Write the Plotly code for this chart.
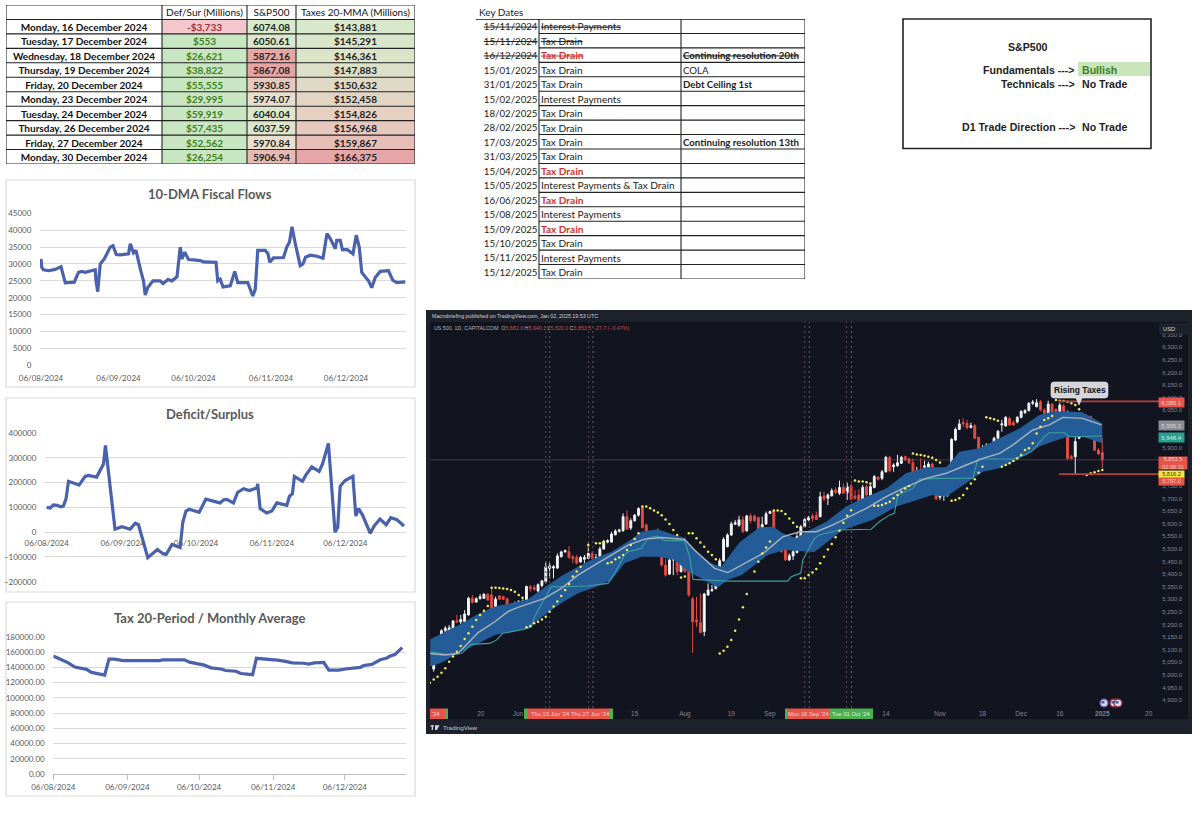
import pandas as pd
import plotly.graph_objects as go

# ---------- table data ----------
flow_dates = ["Monday, 16 December 2024", "Tuesday, 17 December 2024", "Wednesday, 18 December 2024",
              "Thursday, 19 December 2024", "Friday, 20 December 2024", "Monday, 23 December 2024",
              "Tuesday, 24 December 2024", "Thursday, 26 December 2024", "Friday, 27 December 2024",
              "Monday, 30 December 2024"]
flow_headers = ["", "Def/Sur (Millions)", "S&P500", "Taxes 20-MMA (Millions)"]
def_sur = [-3733, 553, 26621, 38822, 55555, 29995, 59919, 57435, 52562, 26254]
sp500 = [6074.08, 6050.61, 5872.16, 5867.08, 5930.85, 5974.07, 6040.04, 6037.59, 5970.84, 5906.94]
taxes_mma = [143881, 145291, 146361, 147883, 150632, 152458, 154826, 156968, 159867, 166375]

key_dates = ["15/11/2024", "15/11/2024", "16/12/2024", "15/01/2025", "31/01/2025", "15/02/2025", "18/02/2025",
             "28/02/2025", "17/03/2025", "31/03/2025", "15/04/2025", "15/05/2025", "16/06/2025", "15/08/2025",
             "15/09/2025", "15/10/2025", "15/11/2025", "15/12/2025"]
key_events = ["Interest Payments", "Tax Drain", "Tax Drain", "Tax Drain", "Tax Drain", "Interest Payments",
              "Tax Drain", "Tax Drain", "Tax Drain", "Tax Drain", "Tax Drain", "Interest Payments & Tax Drain",
              "Tax Drain", "Interest Payments", "Tax Drain", "Tax Drain", "Interest Payments", "Tax Drain"]
key_notes = ["", "", "Continuing resolution 20th", "COLA", "Debt Ceiling 1st", "", "", "",
             "Continuing resolution 13th", "", "", "", "", "", "", "", "", ""]
key_note_bold = [0, 0, 1, 0, 1, 0, 0, 0, 1, 0, 0, 0, 0, 0, 0, 0, 0, 0]
key_struck = [1, 1, 1, 0, 0, 0, 0, 0, 0, 0, 0, 0, 0, 0, 0, 0, 0, 0]
key_red = [0, 0, 1, 0, 0, 0, 0, 0, 0, 0, 1, 0, 1, 0, 1, 0, 0, 0]

# ---------- line chart data (days after 06/08/2024) ----------
start_date = pd.Timestamp("2024-08-06")
month_ticks = ["2024-08-06", "2024-09-06", "2024-10-06", "2024-11-06", "2024-12-06"]
month_labels = ["06/08/2024", "06/09/2024", "06/10/2024", "06/11/2024", "06/12/2024"]

fiscal_days = [0, 0.3, 1, 3, 5.7, 8, 9.7, 11, 13.3, 15, 16.4, 17.7, 19.7, 21.7, 22, 22.7, 23.7, 25.3, 27.7, 28.8,
               30.1, 31.7, 35, 35.7, 37, 38, 39.9, 41, 41.7, 42.7, 44.8, 47.7, 48.8, 50.8, 52.4, 54.4, 55.7, 56.4,
               57.5, 59, 61, 63.7, 65, 70, 70.7, 71.7, 72.8, 75.7, 77.5, 78.7, 82.7, 84.7, 85.7, 86.7, 89.7, 90.8,
               91.5, 93, 97, 98.3, 99.4, 100.4, 101.7, 103.7, 104.8, 105.8, 107.7, 110.4, 112.8, 114.4, 115.7,
               117.7, 118.3, 119.7, 120.6, 122.4, 124.8, 126.1, 127.3, 128.3, 131, 132.3, 133.7, 135.7, 139,
               140.7, 142.3, 145.7]
fiscal_vals = [31500, 29000, 28300, 28000, 28400, 29200, 24400, 24500, 24600, 27500, 27800, 27500, 28000, 28300,
               25000, 21800, 30000, 31500, 35000, 35400, 32800, 32700, 33000, 36000, 33300, 34000, 28000, 25000,
               20800, 23000, 25000, 25000, 24200, 25400, 25000, 26200, 35000, 31500, 33500, 31300, 31200, 31000,
               30600, 30500, 25000, 25500, 23200, 23500, 27800, 24500, 24500, 20500, 22500, 34000, 34000, 33000,
               30500, 31800, 31900, 35000, 36500, 41000, 36000, 29500, 30000, 32000, 32600, 32300, 31700, 39000,
               37500, 34500, 37000, 37000, 34200, 34300, 33000, 38500, 35000, 27500, 25000, 23000, 26000, 27800,
               28000, 25200, 24500, 24700]

deficit_days = [0, 1.4, 2.7, 4.4, 5.7, 6.8, 7.9, 8.9, 11.2, 13.2, 15.7, 17, 20.4, 22.5, 23.2, 24, 27.9, 30.7, 34.1,
                36.2, 37.5, 41.3, 43.3, 45.2, 47.7, 48.8, 51.2, 54.5, 55.6, 56.9, 58.2, 62.3, 65, 70.8, 72.2, 73.6,
                76.3, 78, 80.4, 82.8, 85.8, 86.2, 87.2, 89.9, 92, 94, 98.1, 99.2, 100.4, 101.2, 104.5, 106, 108.3,
                111.3, 112.7, 115.1, 117.8, 118.9, 119.9, 121.9, 125.1, 126.3, 127.4, 129, 132.2, 133.8, 136.2,
                138.7, 140.6, 143.1, 146]
deficit_vals = [100000, 97000, 110000, 108000, 102000, 105000, 135000, 205000, 197000, 190000, 225000, 229000,
                222000, 265000, 275000, 350000, 12000, 22000, 12000, 36000, 30000, -103000, -85000, -70000, -88000,
                -90000, -50000, -62000, 40000, 85000, 92000, 80000, 133000, 118000, 130000, 132000, 118000, 160000,
                175000, 168000, 178000, 195000, 95000, 77000, 85000, 118000, 108000, 145000, 155000, 225000, 205000,
                232000, 263000, 245000, 275000, 358000, 0, 20000, 185000, 208000, 225000, 65000, 95000, 70000, -5000,
                25000, 53000, 30000, 58000, 50000, 25000]

tax_days = [0, 2.1, 4.2, 6.3, 9, 11.2, 13.9, 16, 18.8, 21.5, 23.3, 25.7, 29.2, 34, 37.5, 39.6, 44.4, 45.8, 50.7, 52.8,
            54.9, 57, 59.7, 63.2, 66, 70.1, 72.2, 76.4, 78.5, 81.3, 83.4, 85, 87.5, 91, 93.8, 97.2, 100, 104.9, 107,
            109.1, 113.2, 115.3, 119.5, 122.2, 125, 128.5, 129.9, 133.3, 136.8, 139.6, 141, 143, 146]
tax_vals = [155000, 152000, 148500, 146000, 140500, 139000, 137500, 133500, 131500, 130000, 151000, 151000, 149000,
            149000, 148000, 149000, 149000, 150000, 150000, 151000, 150000, 147000, 145000, 143000, 139500, 138000,
            136000, 135000, 132000, 131000, 130500, 152000, 151500, 150000, 149500, 148000, 146000, 145500, 144500,
            146000, 146500, 136500, 136500, 138000, 138500, 140000, 142500, 144000, 150000, 152500, 155000, 157000,
            166000]

# ---------- candles ----------
bar_open = [5023, 5075, 5132, 5175, 5171, 5175, 5215, 5210, 5211, 5238,
            5304, 5289, 5302, 5304, 5320, 5317, 5264, 5313, 5310, 5302,
            5251, 5224, 5281, 5281, 5291, 5350, 5347, 5333, 5355, 5370,
            5423, 5424, 5424, 5469, 5488, 5489, 5469, 5466, 5448, 5459,
            5463, 5482, 5463, 5469, 5500, 5527, 5527, 5556, 5570, 5572,
            5628, 5583, 5612, 5634, 5665, 5595, 5548, 5509, 5559, 5529,
            5436, 5400, 5456, 5463, 5410, 5535, 5432, 5302, 5218, 5207,
            5172, 5317, 5334, 5343, 5424, 5453, 5509, 5555, 5598, 5594,
            5617, 5572, 5631, 5631, 5624, 5552, 5599, 5641, 5652, 5522,
            5515, 5496, 5456, 5472, 5486, 5549, 5588, 5615, 5631, 5632,
            5628, 5710, 5701, 5711, 5734, 5721, 5744, 5723, 5750, 5710,
            5714, 5694, 5747, 5701, 5744, 5784, 5780, 5806, 5863, 5826,
            5830, 5840, 5866, 5857, 5842, 5800, 5810, 5824, 5824, 5837,
            5800, 5705, 5710, 5714, 5789, 5932, 5974, 6002, 5998, 5982,
            5989, 5943, 5863, 5892, 5906, 5912, 5939, 5992, 5988, 6018,
            6002, 6004, 6022, 6041, 6049, 6078, 6064, 6084, 6051, 6038,
            6074, 6054, 6045, 6067, 6045, 5866, 5866, 5939, 5965, 6027,
            6025, 5965, 5892, 5882.6]
bar_high = [5099, 5138, 5181, 5194, 5198, 5218, 5238, 5238, 5257, 5310,
            5317, 5308, 5321, 5324, 5324, 5347, 5310, 5317, 5314, 5306,
            5257, 5291, 5297, 5300, 5354, 5357, 5357, 5363, 5377, 5449,
            5443, 5436, 5482, 5493, 5498, 5511, 5476, 5476, 5472, 5476,
            5522, 5489, 5480, 5509, 5535, 5538, 5568, 5578, 5580, 5641,
            5652, 5621, 5638, 5665, 5670, 5601, 5572, 5568, 5582, 5535,
            5459, 5463, 5489, 5466, 5548, 5546, 5436, 5310, 5310, 5324,
            5326, 5363, 5357, 5432, 5463, 5546, 5562, 5608, 5615, 5631,
            5631, 5635, 5641, 5635, 5628, 5628, 5648, 5652, 5654, 5549,
            5535, 5502, 5482, 5496, 5562, 5595, 5621, 5631, 5639, 5648,
            5727, 5727, 5720, 5740, 5744, 5771, 5760, 5763, 5758, 5734,
            5737, 5754, 5754, 5756, 5793, 5789, 5813, 5869, 5869, 5840,
            5873, 5869, 5870, 5862, 5859, 5826, 5859, 5850, 5846, 5842,
            5803, 5734, 5727, 5793, 5939, 5982, 6014, 6018, 6012, 6001,
            5996, 5945, 5912, 5919, 5919, 5945, 5972, 6012, 6027, 6025,
            6009, 6027, 6051, 6054, 6083, 6091, 6094, 6091, 6058, 6088,
            6080, 6058, 6080, 6075, 6051, 5873, 5975, 5976, 6038, 6033,
            6030, 5972, 5899, 5940.1]
bar_low = [5013, 5072, 5128, 5171, 5167, 5171, 5205, 5202, 5207, 5235,
           5284, 5287, 5300, 5301, 5295, 5257, 5261, 5297, 5297, 5238,
           5223, 5187, 5244, 5244, 5288, 5330, 5334, 5326, 5347, 5363,
           5383, 5383, 5420, 5466, 5485, 5463, 5443, 5439, 5445, 5443,
           5459, 5443, 5436, 5440, 5496, 5522, 5525, 5554, 5564, 5568,
           5575, 5575, 5608, 5628, 5582, 5542, 5496, 5505, 5546, 5429,
           5390, 5396, 5396, 5396, 5406, 5406, 5310, 5088, 5191, 5165,
           5154, 5314, 5330, 5339, 5420, 5449, 5506, 5552, 5595, 5588,
           5564, 5568, 5601, 5608, 5564, 5549, 5595, 5639, 5515, 5505,
           5485, 5453, 5453, 5456, 5482, 5542, 5586, 5611, 5608, 5615,
           5625, 5691, 5674, 5707, 5718, 5714, 5718, 5694, 5694, 5697,
           5685, 5687, 5707, 5694, 5740, 5771, 5773, 5803, 5804, 5806,
           5826, 5837, 5850, 5837, 5767, 5784, 5795, 5806, 5803, 5803,
           5694, 5694, 5691, 5707, 5784, 5928, 5972, 5982, 5974, 5978,
           5935, 5859, 5859, 5833, 5866, 5873, 5932, 5965, 5985, 5988,
           5988, 5998, 6018, 6035, 6045, 6071, 6062, 6046, 6034, 6035,
           6041, 6035, 6041, 6041, 5853, 5855, 5797, 5935, 5961, 6018,
           5961, 5888, 5873, 5820.0]
bar_close = [5083, 5132, 5175, 5185, 5187, 5214, 5210, 5220, 5242, 5304,
             5287, 5302, 5310, 5320, 5297, 5261, 5301, 5301, 5300, 5244,
             5227, 5281, 5291, 5293, 5351, 5342, 5339, 5358, 5373, 5429,
             5432, 5429, 5472, 5488, 5493, 5465, 5461, 5443, 5466, 5466,
             5482, 5463, 5466, 5500, 5530, 5533, 5559, 5571, 5575, 5628,
             5579, 5612, 5634, 5660, 5584, 5546, 5500, 5562, 5548, 5436,
             5396, 5456, 5463, 5410, 5533, 5410, 5317, 5211, 5211, 5168,
             5321, 5337, 5339, 5427, 5453, 5538, 5555, 5599, 5604, 5615,
             5568, 5631, 5612, 5612, 5568, 5597, 5639, 5648, 5519, 5509,
             5489, 5456, 5473, 5489, 5549, 5588, 5617, 5625, 5621, 5617,
             5707, 5697, 5714, 5731, 5724, 5744, 5721, 5747, 5697, 5701,
             5687, 5744, 5714, 5747, 5787, 5776, 5806, 5863, 5809, 5833,
             5842, 5863, 5853, 5842, 5797, 5810, 5797, 5829, 5837, 5807,
             5698, 5727, 5718, 5789, 5935, 5974, 5996, 5996, 5981, 5989,
             5939, 5863, 5890, 5912, 5912, 5939, 5967, 5996, 6022, 5992,
             5992, 6022, 6045, 6049, 6078, 6082, 6080, 6051, 6038, 6075,
             6045, 6041, 6071, 6045, 5859, 5859, 5926, 5965, 6031, 6022,
             5965, 5892, 5877, 5853.5]

# ---------- indicators ----------
upper_bars = [-0.9, 7, 11.5, 15.8, 20, 24.4, 28.7, 33, 37.3, 41.6, 46, 50.3, 53.7, 58, 62.3, 65, 67.5, 71.8, 74.4, 75.7,
              79.1, 84.3, 87.8, 90.3, 93.8, 96.4, 101.6, 106.7, 111.9, 117.1, 122.2, 127.4, 132.6, 136, 141.2, 146.4,
              151.6, 156.7, 160.2, 163.6, 167.9, 173]
upper_vals = [5141, 5202, 5242, 5271, 5284, 5300, 5347, 5392, 5429, 5463, 5489, 5529, 5568, 5578, 5555, 5542, 5496,
              5443, 5429, 5456, 5525, 5586, 5588, 5562, 5542, 5568, 5608, 5668, 5707, 5740, 5800, 5824, 5824, 5886,
              5899, 5939, 5978, 6031, 6045, 6045, 6042, 5998]
lower_bars = [-0.9, 2, 7, 11.5, 15.8, 20, 24.4, 28.7, 33, 37.3, 41.6, 46, 49.4, 53.7, 58, 62.3, 65.8, 70, 73.5, 76,
              79.7, 86.4, 90.8, 98.5, 105.8, 113.5, 119.7, 129.1, 132.6, 137.8, 142.1, 146.4, 151.6, 156.7, 160.2,
              163.6, 167.9, 173]
lower_vals = [5033, 5048, 5092, 5125, 5158, 5171, 5185, 5238, 5284, 5324, 5347, 5377, 5443, 5469, 5469, 5456, 5410,
              5377, 5347, 5377, 5396, 5476, 5496, 5488, 5575, 5615, 5668, 5714, 5707, 5760, 5806, 5820, 5859, 5906,
              5926, 5943, 5945, 5919]
mid_bars = [-0.9, 2.8, 6.3, 8.9, 11.5, 15.8, 19.2, 21.8, 24.4, 28.7, 33, 37.3, 41.6, 46, 50.3, 54.6, 58.9, 64.9, 67.5,
            70.1, 72.7, 76.1, 85.2, 87.8, 90.3, 94.7, 99, 103.3, 107.6, 111.9, 117.1, 121.4, 127.4, 132.6, 137.8,
            142.1, 146.4, 149.8, 155, 159.3, 162.8, 167.9, 172.8]
mid_vals = [5085, 5079, 5085, 5125, 5168, 5211, 5251, 5268, 5281, 5304, 5343, 5396, 5436, 5476, 5515, 5539, 5545,
            5538, 5496, 5459, 5423, 5406, 5482, 5515, 5548, 5568, 5568, 5595, 5628, 5661, 5707, 5740, 5780, 5800,
            5833, 5859, 5879, 5912, 5972, 5992, 6022, 6018, 5992]
teal_bars = [-0.9, 3.7, 7.2, 9.7, 14.5, 16.2, 17.9, 23.5, 25.3, 26.1, 28.7, 30.4, 33, 39.9, 45.1, 46.8, 49.4, 50.3,
             53.7, 55.4, 58, 59.7, 64.9, 66.2, 67.1, 76.1, 91.6, 92.5, 95, 95.5, 98.5, 99.8, 105, 113.2, 115.3, 117.9,
             119.2, 120.1, 124, 125.7, 130, 139.5, 140.8, 149.8, 153.3, 155, 158, 159.3, 163.2, 164.5, 173]
teal_vals = [5092, 5081, 5085, 5121, 5125, 5138, 5165, 5181, 5191, 5231, 5304, 5350, 5350, 5353, 5363, 5403, 5476,
             5489, 5502, 5542, 5551, 5533, 5533, 5469, 5379, 5372, 5372, 5390, 5404, 5456, 5541, 5555, 5575, 5578,
             5608, 5634, 5641, 5714, 5740, 5776, 5780, 5781, 5857, 5857, 5875, 5890, 5945, 5961, 5961, 5945, 5948]
sar_bars = [-1, 0, 1, 2, 3, 4, 5, 6, 7, 8, 9, 10, 11, 12, 13, 14,
            15, 16, 17, 18, 19, 20, 21, 22, 23,
            24, 25, 26, 27, 28, 29, 30, 31, 32, 33, 34, 35, 36, 37, 38,
            40, 42, 43, 44, 45, 46, 47, 48, 49, 50, 51, 52, 53,
            54, 55, 56, 57, 58, 59, 60, 61, 62, 63, 64, 65,
            66, 67, 68, 69, 70, 71, 72, 73,
            74, 75, 76, 77, 78, 79, 80, 81, 83, 84, 85, 86, 87,
            88, 89, 90, 91, 92, 93, 94,
            95, 96, 97, 98, 99, 100, 101, 102, 103, 104, 105, 106, 107, 108,
            109, 110, 111, 112, 113,
            114, 115, 116, 117, 118, 119, 120, 121, 122, 123,
            124, 125, 126, 127, 128, 129, 130, 131,
            134, 135, 136, 137, 138, 139, 140, 141, 142,
            143, 144, 145, 146,
            147, 148, 149, 150, 151, 152, 153, 154, 155, 156, 157, 158, 159, 160,
            161, 162, 163, 164, 165, 166, 167,
            169, 170, 171, 172, 173]
sar_vals = [4969, 4982, 4993, 5009, 5026, 5052, 5073, 5092, 5115, 5142, 5165, 5191, 5218, 5238, 5255, 5273,
            5346, 5346, 5345, 5343, 5341, 5337, 5330, 5317, 5306,
            5189, 5194, 5205, 5211, 5220, 5231, 5251, 5271, 5291, 5313, 5337, 5361, 5390, 5410, 5429,
            5515, 5522, 5522, 5525, 5443, 5447, 5459, 5466, 5476, 5496, 5515, 5539, 5562,
            5668, 5668, 5661, 5652, 5644, 5634, 5617, 5599, 5575, 5555, 5387, 5390,
            5562, 5562, 5542, 5525, 5509, 5489, 5476, 5459,
            5085, 5096, 5112, 5138, 5175, 5220, 5268, 5321, 5410, 5449, 5482, 5506, 5529,
            5652, 5652, 5650, 5638, 5621, 5604, 5588,
            5384, 5384, 5396, 5406, 5420, 5443, 5469, 5498, 5519, 5546, 5572, 5604, 5632, 5653,
            5771, 5767, 5767, 5764, 5760,
            5671, 5671, 5674, 5681, 5687, 5701, 5714, 5727, 5740, 5750,
            5879, 5875, 5873, 5870, 5866, 5862, 5853, 5843,
            5691, 5694, 5701, 5714, 5740, 5760, 5776, 5802, 5826,
            6022, 6018, 6014, 6009,
            5826, 5833, 5840, 5849, 5859, 5873, 5892, 5899, 5919, 5958, 5985, 6012, 6018, 6027,
            6091, 6088, 6087, 6084, 6078, 6071, 6054,
            5793, 5800, 5804, 5809, 5813]
event_bars_red = [29, 40.1, 96, 106.8]
event_bars_gray = [30, 41.2, 97.2, 108.1]
price_ticks = [4900, 4950, 5000, 5050, 5100, 5150, 5200, 5250, 5300, 5350, 5400, 5450, 5500, 5550, 5600, 5650, 5700,
               5750, 5900, 6050, 6100, 6150, 6200, 6250, 6300, 6350]
date_tick_bars = [12.2, 21.8, 52, 65, 77, 87, 117, 131, 142, 152, 162, 173, 185]
date_tick_text = ["20", "Jun", "15", "Aug", "19", "Sep", "14", "Nov", "18", "Dec", "16", "<b>2025</b>", "20"]

last_close = 5853.5
top_level = 6085.1
bottom_level = 5797.0
level_from_bar = 161.8

# ---------- helpers ----------
W, H = 1200, 813
LATO = "Lato"
ARIAL = "Liberation Sans"
shapes, annotations = [], []


def xd(a, b):
    return [a / W, b / W]


def yd(top, bot):
    return [1 - bot / H, 1 - top / H]


def px(x):
    return x / W


def py(y):
    return 1 - y / H


def rect(x0, y0, x1, y1, fill="rgba(0,0,0,0)", line=None, lw=1, layer="below"):
    shapes.append(dict(type="rect", xref="paper", yref="paper", x0=px(x0), x1=px(x1), y0=py(y1), y1=py(y0),
                       fillcolor=fill, line=dict(color=line or "rgba(0,0,0,0)", width=lw if line else 0), layer=layer))


def note(x, y, text, size=10, color="#000", family=LATO, anchor="center", **kw):
    annotations.append(dict(xref="paper", yref="paper", x=px(x), y=py(y), text=text, showarrow=False,
                            xanchor=anchor, yanchor="middle", font=dict(size=size, color=color, family=family),
                            borderpad=0, **kw))


def days_to_dates(days):
    return [start_date + pd.Timedelta(hours=d * 24) for d in days]


fig = go.Figure()
axes = {}


def set_axes(n, xdom, ydom, xkw, ykw):
    suffix = "" if n == 1 else str(n)
    anchor_x, anchor_y = "x" + suffix, "y" + suffix
    axes["xaxis" + suffix] = dict(domain=xdom, anchor=anchor_y, fixedrange=True, automargin=False, **xkw)
    axes["yaxis" + suffix] = dict(domain=ydom, anchor=anchor_x, fixedrange=True, automargin=False, **ykw)
    return anchor_x, anchor_y


HIDDEN = dict(visible=False)
TEXT_DROP = 0.12  # rows: optical centring of table text

# ---------- table 1 ----------
col_edges = [6, 162, 247, 296, 415]
ax, ay = set_axes(1, xd(6, 415), yd(5, 164), dict(range=[6, 415], **HIDDEN), dict(range=[9.5, -1.5], **HIDDEN))
row_ids = list(range(len(flow_dates)))
text_rows = [r + TEXT_DROP for r in row_ids]
neg_stop = (0 - min(def_sur)) / (max(def_sur) - min(def_sur))
heat_cols = [
    (def_sur, [[0, "#f4c7ce"], [neg_stop, "#f4c7ce"], [neg_stop, "#c8e6c1"], [1, "#c8e6c1"]], col_edges[1:3]),
    (sp500, [[0, "#e5a3a2"], [0.5, "#e8dfcc"], [1, "#d6e9c9"]], col_edges[2:4]),
    (taxes_mma, [[0, "#d8e9cb"], [0.5, "#e6cfc2"], [1, "#e6a6a8"]], col_edges[3:5]),
]
for vals, scale, edges in heat_cols:
    fig.add_trace(go.Heatmap(z=[[v] for v in vals], x=edges, y=row_ids, colorscale=scale, showscale=False,
                             hoverinfo="skip", xaxis=ax, yaxis=ay))
gx, gy = [], []
for e in col_edges:
    gx += [e, e, None]
    gy += [-1.5, 9.5, None]
for r in range(-1, 10):
    gx += [6, 415, None]
    gy += [r + 0.5, r + 0.5, None]
gx += [6, 415]
gy += [-1.5, -1.5]
fig.add_trace(go.Scatter(x=gx, y=gy, mode="lines", line=dict(color="#222", width=1.1), hoverinfo="skip", xaxis=ax, yaxis=ay))
centers = [(col_edges[i] + col_edges[i + 1]) / 2 for i in range(4)]
fig.add_trace(go.Scatter(x=centers[1:], y=[-1 + TEXT_DROP] * 3, text=flow_headers[1:], mode="text",
                         textfont=dict(family=LATO, size=10, color="#111"), hoverinfo="skip", xaxis=ax, yaxis=ay))
col_text = [
    ["<b>%s</b>" % d for d in flow_dates],
    ["<b>%s$%s</b>" % ("-" if v < 0 else "", format(abs(v), ",")) for v in def_sur],
    ["<b>%.2f</b>" % v for v in sp500],
    ["<b>$%s</b>" % format(v, ",") for v in taxes_mma],
]
col_colors = [
    ["#111"] * 10,
    ["#a13030" if v < 0 else "#3f7f1e" for v in def_sur],
    ["#222"] * 10,
    ["#222"] * 10,
]
for i in range(4):
    fig.add_trace(go.Scatter(x=[centers[i]] * 10, y=text_rows, text=col_text[i], mode="text",
                             textfont=dict(family=LATO, size=10, color=col_colors[i]),
                             hoverinfo="skip", xaxis=ax, yaxis=ay))

# ---------- table 2 ----------
kx = [476, 539, 681, 805]
ax, ay = set_axes(2, xd(476, 805), yd(19, 279), dict(range=[476, 805], **HIDDEN), dict(range=[17.5, -0.5], **HIDDEN))
gx, gy = [], []
for e in kx[1:]:
    gx += [e, e, None]
    gy += [-0.5, 17.5, None]
for r in range(18):
    gx += [539, 805, None]
    gy += [r + 0.5, r + 0.5, None]
fig.add_trace(go.Scatter(x=gx, y=gy, mode="lines", line=dict(color="#222", width=1.1), hoverinfo="skip", xaxis=ax, yaxis=ay))
fig.add_trace(go.Scatter(x=[476, 805], y=[-0.5, -0.5], mode="lines", line=dict(color="#111", width=1.6), hoverinfo="skip", xaxis=ax, yaxis=ay))
STRIKE = '<span style="text-decoration:line-through">%s</span>'
key_rows = [r + TEXT_DROP for r in range(18)]
t_dates = [STRIKE % d if s else d for d, s in zip(key_dates, key_struck)]
t_events = []
for e, s, r in zip(key_events, key_struck, key_red):
    t = "<b>%s</b>" % e if r else e
    t_events.append(STRIKE % t if s else t)
t_notes = []
for n, s, b in zip(key_notes, key_struck, key_note_bold):
    t = "<b>%s</b>" % n if b else n
    t_notes.append(STRIKE % t if s and n else t)
fig.add_trace(go.Scatter(x=[537.5] * 18, y=key_rows, text=t_dates, mode="text", textposition="middle left",
                         textfont=dict(family=LATO, size=9.7, color="#222"), hoverinfo="skip", xaxis=ax, yaxis=ay))
fig.add_trace(go.Scatter(x=[541] * 18, y=key_rows, text=t_events, mode="text", textposition="middle right",
                         textfont=dict(family=LATO, size=10.1, color=["#d0342c" if r else "#222" for r in key_red]),
                         hoverinfo="skip", xaxis=ax, yaxis=ay))
fig.add_trace(go.Scatter(x=[683] * 18, y=key_rows, text=t_notes, mode="text", textposition="middle right",
                         textfont=dict(family=LATO, size=9.7, color="#222"), hoverinfo="skip", xaxis=ax, yaxis=ay))
note(478, 12, "Key Dates", size=10, color="#222", anchor="left")

# ---------- S&P box ----------
rect(903, 19, 1151, 148.5, line="#222", lw=1.6)
rect(1078, 62, 1150, 76, fill="#c9e6bb")
B = lambda s: "<b>%s</b>" % s
BOXF = 10.6
note(1028, 47.5, B("S&amp;P500"), BOXF, "#222", ARIAL)
note(1075.5, 70, B("Fundamentals ---&gt;"), BOXF, "#222", ARIAL, "right")
note(1080.5, 70, B("Bullish"), BOXF, "#3f7f1e", ARIAL, "left")
note(1075.5, 84, B("Technicals ---&gt;"), BOXF, "#222", ARIAL, "right")
note(1080.5, 84, B("No Trade"), BOXF, "#222", ARIAL, "left")
note(1075.5, 127, B("D1 Trade Direction ---&gt;"), BOXF, "#222", ARIAL, "right")
note(1080.5, 127, B("No Trade"), BOXF, "#222", ARIAL, "left")

# ---------- excel line charts ----------
LINE = dict(color="#4a62ae", width=3.2, shape="linear")
GRAY = "#595959"
TICKF = dict(family=LATO, size=8, color=GRAY)


def excel_chart(n, panel, plot, day_rng, yrange, ydtick, title, title_y, days, vals, tickformat="d", x_axis_y=None, xline=False):
    rect(panel[0], panel[1], panel[2], panel[3], line="#d9d9d9", lw=1.2)
    xkw = dict(type="date", range=[start_date + pd.Timedelta(hours=day_rng[0] * 24), start_date + pd.Timedelta(hours=day_rng[1] * 24)],
               tickvals=month_ticks, ticktext=month_labels, tickfont=TICKF, showgrid=False, zeroline=False,
               ticks="outside", ticklen=3 if x_axis_y is not None else 5, tickcolor="#bfbfbf" if xline else "rgba(0,0,0,0)",
               showline=xline, linecolor="#bfbfbf")
    ykw = dict(range=yrange, dtick=ydtick, tick0=0, tickfont=TICKF, tickformat=tickformat, gridcolor="#d9d9d9", gridwidth=1,
               zeroline=False, showline=False, ticks="outside", ticklen=6, tickcolor="rgba(0,0,0,0)")
    a, b = set_axes(n, xd(plot[0], plot[1]), yd(plot[2], plot[3]), xkw, ykw)
    if x_axis_y is not None:
        axes["xaxis" + str(n)].update(anchor="free", position=py(x_axis_y))
    fig.add_trace(go.Scatter(x=days_to_dates(days), y=vals, mode="lines", line=LINE, hoverinfo="skip", xaxis=a, yaxis=b))
    note((panel[0] + panel[2]) / 2 - 0.5, title_y, B(title), 13, GRAY)


excel_chart(3, (6, 180, 415, 387), (40, 406, 213.3, 365.3), (-0.4, 146), [0, 45000], 5000, "10-DMA Fiscal Flows", 194,
            fiscal_days, fiscal_vals)
excel_chart(4, (6, 398, 415, 592), (45, 406, 433, 581.7), (-0.7, 146.8), [-200000, 400000], 100000, "Deficit/Surplus", 413.5,
            deficit_days, deficit_vals, x_axis_y=532)
excel_chart(5, (6, 602, 415, 796), (53.3, 406, 637, 774), (0, 147.6), [0, 180000], 20000, "Tax 20-Period / Monthly Average", 618,
            tax_days, tax_vals, tickformat=".2f", xline=True)

# ---------- TradingView panel ----------
rect(426, 310, 1192, 734, fill="#1d212c")
rect(430, 322, 1188, 719, fill="#12151f")
n_bars = len(bar_close)
step = (1102.3 - 433.7) / (n_bars - 1)
x_rng = [(430 - 433.7) / step, (1159 - 433.7) / step]
y_rng = [6300 - (708 - 347.3) / 0.252, 6300 + (347.3 - 322) / 0.252]
DIM = "#83868f"
xkw = dict(range=x_rng, tickvals=date_tick_bars, ticktext=date_tick_text, tickfont=dict(family=ARIAL, size=6.5, color=DIM),
           showgrid=False, zeroline=False, showline=False, ticks="", rangeslider=dict(visible=False))
ykw = dict(range=y_rng, side="right", tickvals=price_ticks, tickformat=",.1f", tickfont=dict(family=ARIAL, size=6, color=DIM),
           showgrid=False, zeroline=False, showline=False, ticks="outside", ticklen=1, tickcolor="rgba(0,0,0,0)")
ax, ay = set_axes(6, xd(430, 1159), yd(322, 708), xkw, ykw)
SK = dict(hoverinfo="skip", showlegend=False, xaxis=ax, yaxis=ay)

for bars, colr in ((event_bars_red, "#6a3f48"), (event_bars_gray, "#5c5f68")):
    ex, ey = [], []
    for b in bars:
        ex += [b, b, None]
        ey += [y_rng[0], y_rng[1], None]
    fig.add_trace(go.Scatter(x=ex, y=ey, mode="lines", line=dict(color=colr, width=1, dash="2px,3px"), **SK))
fig.add_trace(go.Scatter(x=x_rng, y=[last_close, last_close], mode="lines", line=dict(color="rgba(150,110,120,0.4)", width=1), **SK))
fig.add_trace(go.Scatter(x=upper_bars + lower_bars[::-1], y=upper_vals + lower_vals[::-1], mode="lines", fill="toself",
                         fillcolor="#245c98", line=dict(width=0, color="#245c98"), **SK))
fig.add_trace(go.Scatter(x=teal_bars, y=teal_vals, mode="lines", line=dict(color="#3f9fa0", width=1.1), **SK))
fig.add_trace(go.Scatter(x=mid_bars, y=mid_vals, mode="lines", line=dict(color="#a9b3bd", width=1.4), **SK))
fig.add_trace(go.Candlestick(x=list(range(n_bars)), open=bar_open, high=bar_high, low=bar_low, close=bar_close,
                             increasing=dict(line=dict(color="#eeeff2", width=1), fillcolor="#ffffff"),
                             decreasing=dict(line=dict(color="#e04a42", width=1), fillcolor="#ea5148"),
                             whiskerwidth=0, **SK))
fig.add_trace(go.Scatter(x=sar_bars, y=sar_vals, mode="markers", marker=dict(color="#f4ea5c", size=2.5), **SK))
fig.add_trace(go.Scatter(x=[level_from_bar, x_rng[1]], y=[top_level, top_level], mode="lines", line=dict(color="#b5413c", width=1.8), **SK))
fig.add_trace(go.Scatter(x=[level_from_bar, x_rng[1]], y=[bottom_level, bottom_level], mode="lines", line=dict(color="#b5413c", width=1.8), **SK))

# header & legend text
note(431, 316, "Macrobriefing published on TradingView.com, Jan 02, 2025 19:53 UTC", 5.3, "#d1d4dc", ARIAL, "left")
RD = lambda s: '<span style="color:#c0504d">%s</span>' % s
note(433, 328, "US 500, 1D, CAPITALCOM  O" + RD("5,882.6") + " H" + RD("5,940.1") + " L" + RD("5,820.0") + " C" + RD("5,853.5") + " " + RD("\u221227.7 (\u22120.47%)"),
     5.3, "#b2b5be", ARIAL, "left")

# axis tags on the date strip
TAG_R, TAG_G = "#e8534a", "#4caf50"
rect(430, 708.5, 445, 719, fill=TAG_R, layer="above")
rect(445, 708.5, 448, 719, fill=TAG_G, layer="above")
rect(524, 708.5, 528, 719, fill=TAG_G, layer="above")
rect(528, 708.5, 609, 719, fill=TAG_R, layer="above")
rect(609, 708.5, 613, 719, fill=TAG_G, layer="above")
rect(785, 708.5, 787, 719, fill=TAG_G, layer="above")
rect(787, 708.5, 829, 719, fill=TAG_R, layer="above")
rect(829, 708.5, 873, 719, fill=TAG_G, layer="above")
note(436, 714, "'24", 5.8, "#f3d6d4", ARIAL)
note(550, 714, "Thu 13 Jun '24", 5.8, "#f3d6d4", ARIAL)
note(590, 714, "Thu 27 Jun '24", 5.8, "#f3d6d4", ARIAL)
note(808, 714, "Mon 16 Sep '24", 5.8, "#f3d6d4", ARIAL)
note(851, 714, "Tue 01 Oct '24", 5.8, "#dff0df", ARIAL)

# bottom bar
note(442, 727.5, "TradingView", 6.2, "#c6c8ce", ARIAL, "left")
rect(430.5, 725.3, 434, 726.6, fill="#d1d4dc", layer="above")
rect(431.7, 725.3, 433, 730, fill="#d1d4dc", layer="above")
shapes.append(dict(type="path", xref="paper", yref="paper", layer="above", fillcolor="#d1d4dc", line=dict(width=0),
                   path="M %f %f L %f %f L %f %f L %f %f Z" % (px(435), py(725.3), px(439.5), py(725.3), px(437), py(730), px(435), py(730))))

# right-hand labels
rect(1160, 324, 1187, 333.5, fill="#1d212c", line="#2a2e39", lw=0.8, layer="above")
note(1169, 328.7, "USD", 5.8, "#d1d4dc", ARIAL)


def tag(y, text, bg, fg="#f5d5d3", width=25, h=9, cx=1171, size=6):
    note(cx, y, text, size, fg, ARIAL, bgcolor=bg, width=width, height=h, align="center")


tag(402.5, "6,085.1", "#e8534a")
tag(425, "5,995.2", "#8a8c93", "#d8d9dc")
tag(437.5, "5,948.4", "#26a08f", "#cdeee8")
tag(463, "5,853.5<br>02:06:31", "#e8534a", width=28, h=12, cx=1173, size=5.6)
tag(474.5, "5,816.2", "#f5e83a", "#333", h=6.5, size=5.6)
tag(481.5, "5,797.0", "#e8534a", h=6.5, size=5.6)

# Rising Taxes callout
x0, x1, y0, y1, r = 1051, 1108, 382, 398, 3
shapes.append(dict(type="path", xref="paper", yref="paper", layer="above", fillcolor="#d3d5da", line=dict(color="#e8e9ec", width=0.6),
                   path=("M %f %f L %f %f Q %f %f %f %f L %f %f Q %f %f %f %f L %f %f L %f %f L %f %f L %f %f Q %f %f %f %f L %f %f Q %f %f %f %f Z" % (
                       px(x0 + r), py(y0), px(x1 - r), py(y0), px(x1), py(y0), px(x1), py(y0 + r),
                       px(x1), py(y1 - r), px(x1), py(y1), px(x1 - r), py(y1),
                       px(1082), py(y1), px(1079), py(405), px(1076), py(y1),
                       px(x0 + r), py(y1), px(x0), py(y1), px(x0), py(y1 - r),
                       px(x0), py(y0 + r), px(x0), py(y0), px(x0 + r), py(y0)))))
note(1079.5, 390, B("Rising Taxes"), 8.5, "#111", ARIAL)


# economic-event flags
def flag(cx, ring):
    shapes.append(dict(type="circle", xref="paper", yref="paper", layer="above", x0=px(cx - 4), x1=px(cx + 4), y0=py(707), y1=py(699),
                       fillcolor="#d8dcec", line=dict(color=ring, width=1.4)))
    rect(cx - 2.5, 701, cx + 0.5, 703.5, fill="#3f62b0", layer="above")


for cx, ring in ((1104, "#6a4aa0"), (1114, "#8c2a3a"), (1118, "#8c2a3a")):
    flag(cx, ring)

fig.update_layout(width=W, height=H, autosize=False, margin=dict(l=0, r=0, t=0, b=0, pad=0), showlegend=False,
                  paper_bgcolor="#ffffff", plot_bgcolor="rgba(0,0,0,0)", shapes=shapes, annotations=annotations, **axes)
fig.write_html("out.html", config=dict(displayModeBar=False, responsive=False),
               post_script="document.body.style.margin='0';document.body.style.background='#fff';")
